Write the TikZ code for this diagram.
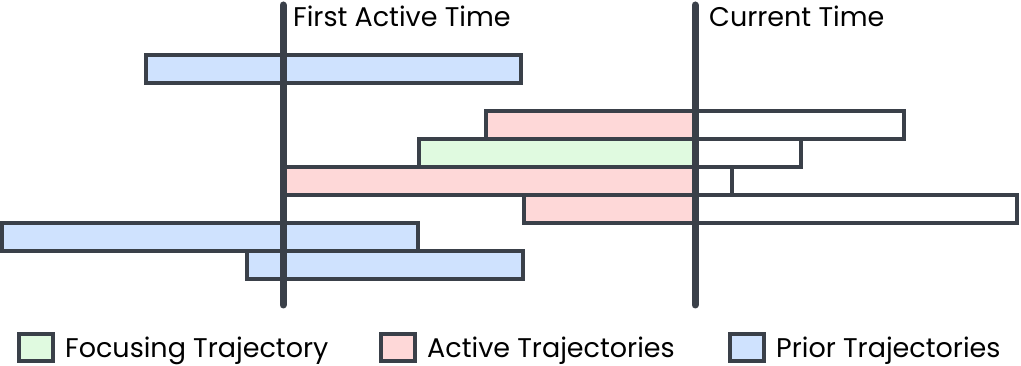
\documentclass[tikz,border=0pt]{standalone}
\usepackage{fontspec}
\setmainfont{Poppins}
\usetikzlibrary{positioning}
\definecolor{barline}{RGB}{58,64,73}
\definecolor{priorblue}{RGB}{207,226,254}
\definecolor{activered}{RGB}{254,216,216}
\definecolor{focusgreen}{RGB}{224,250,224}

\begin{document}
\begin{tikzpicture}[
    x=1pt,y=-1pt,
    bar/.style={draw=barline,line width=4pt},
    timeline/.style={draw=barline,line width=7pt,line cap=round},
    timelabel/.style={anchor=base west,inner sep=0pt,font=\fontsize{27}{32}\selectfont},
    legendbox/.style={rectangle,draw=barline,line width=4pt,minimum width=34pt,
      minimum height=27pt,inner sep=0pt},
    legendtext/.style={inner sep=0pt,text height=20pt,text depth=0pt,
      font=\fontsize{27}{32}\selectfont}
  ]
    \useasboundingbox (0,0) rectangle (1021,366);

    % prior trajectories
    \draw[bar,fill=priorblue] (146,55) rectangle (521,83);
    \draw[bar,fill=priorblue] (2,223) rectangle (418,251);
    \draw[bar,fill=priorblue] (247,251) rectangle (523,279);

    % active trajectories, filled up to the current time
    \fill[activered] (486,111) rectangle (695,139);
    \draw[bar] (486,111) rectangle (904,139);
    \fill[focusgreen] (419,139) rectangle (695,167);
    \draw[bar] (419,139) rectangle (801,167);
    \fill[activered] (283,167) rectangle (695,195);
    \draw[bar] (283,167) rectangle (732,195);
    \fill[activered] (524,195) rectangle (695,223);
    \draw[bar] (524,195) rectangle (1017,223);

    % time markers
    \coordinate (firsttop) at (283,5);
    \coordinate (firstbot) at (283,305);
    \coordinate (currenttop) at (695,5);
    \coordinate (currentbot) at (695,305);
    \draw[timeline] (firsttop) -- (firstbot);
    \draw[timeline] (currenttop) -- (currentbot);
    \node[timelabel] (firstlabel) at (293,27) {First Active Time};
    \node[timelabel] (currentlabel) at (709,27) {Current Time};

    % legend
    \node[legendbox,fill=focusgreen] (focusbox) at (36,347.5) {};
    \node[legendtext,right=10pt of focusbox] (focuslabel) {Focusing Trajectory};
    \node[legendbox,fill=activered] (activebox) at (398,347.5) {};
    \node[legendtext,right=10pt of activebox] (activelabel) {Active Trajectories};
    \node[legendbox,fill=priorblue] (priorbox) at (747,347.5) {};
    \node[legendtext,right=10pt of priorbox] (priorlabel) {Prior Trajectories};
  \end{tikzpicture}
\end{document}
